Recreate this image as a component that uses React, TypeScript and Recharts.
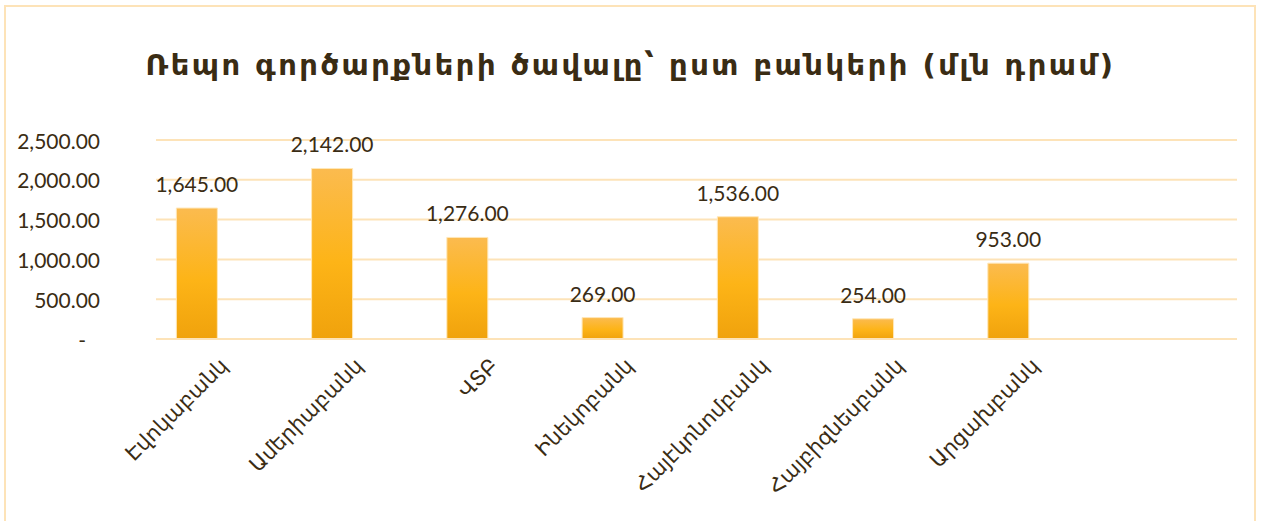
import React from 'react';
import { BarChart, Bar, XAxis, YAxis, CartesianGrid, LabelList } from 'recharts';

const banks = ['Էվոկաբանկ', 'Ամերիաբանկ', 'ՎՏԲ', 'Ինեկոբանկ', 'Հայէկոնոմբանկ', 'Հայբիզնեսբանկ', 'Արցախբանկ'];
const volumes = [1645, 2142, 1276, 269, 1536, 254, 953];
const yTicks = [0, 500, 1000, 1500, 2000, 2500];

const data = banks.map((name, i) => ({ idx: i, name, value: volumes[i] }));

const TEXT = '#3a2c14';
const GRID = '#fde3b8';

const fmt = (v: number) =>
  v.toLocaleString('en-US', { minimumFractionDigits: 2, maximumFractionDigits: 2 });

function YTick(props: any) {
  const { x, y, payload } = props;
  if (payload.value === 0) {
    return (
      <text x={x - 14} y={y} textAnchor="end" dominantBaseline="central" fill={TEXT} fontSize={21} fontFamily="Lato">
        -
      </text>
    );
  }
  return (
    <text x={x} y={y} textAnchor="end" dominantBaseline="central" fill={TEXT} fontSize={21} fontFamily="Lato">
      {fmt(payload.value)}
    </text>
  );
}

function XTick(props: any) {
  const { x, payload } = props;
  const label = banks[payload.value] ?? '';
  const ax = x + 32;
  const ay = 367;
  return (
    <text
      x={ax}
      y={ay}
      textAnchor="end"
      transform={`rotate(-45 ${ax} ${ay})`}
      fill={TEXT}
      fontSize={21}
      fontFamily="'DejaVu Sans'"
    >
      {label}
    </text>
  );
}

export default function App() {
  return (
    <div style={{ position: 'absolute', left: 0, top: 0, width: 1261, height: 521, background: '#fff', overflow: 'hidden' }}>
      <div
        style={{
          position: 'absolute',
          left: 4,
          top: 5,
          width: 1252,
          height: 530,
          border: `2px solid ${GRID}`,
          boxSizing: 'border-box',
        }}
      />
      <div
        style={{
          position: 'absolute',
          left: 0,
          top: 48,
          width: 1261,
          textAlign: 'center',
          fontFamily: "'DejaVu Sans'",
          fontWeight: 'bold',
          fontSize: 29,
          letterSpacing: 2.5,
          color: TEXT,
        }}
      >
        Ռեպո գործարքների ծավալը՝ ըստ բանկերի (մլն դրամ)
      </div>
      <div style={{ position: 'absolute', left: 0, top: 0 }}>
        <BarChart
          width={1261}
          height={521}
          data={data}
          margin={{ top: 140, right: 24, bottom: 152, left: 0 }}
        >
          <defs>
            <linearGradient id="barFill" x1="0" y1="0" x2="0" y2="1">
              <stop offset="0%" stopColor="#fbbb4f" />
              <stop offset="55%" stopColor="#fdb417" />
              <stop offset="100%" stopColor="#f0a20c" />
            </linearGradient>
          </defs>
          <CartesianGrid horizontal vertical={false} stroke={GRID} strokeWidth={2} />
          <XAxis
            type="number"
            dataKey="idx"
            domain={[-0.303, 7.69]}
            ticks={[0, 1, 2, 3, 4, 5, 6]}
            allowDataOverflow
            axisLine={{ stroke: GRID, strokeWidth: 2 }}
            tickLine={false}
            tick={<XTick />}
            interval={0}
            height={30}
          />
          <YAxis
            domain={[0, 2500]}
            ticks={yTicks}
            width={156}
            axisLine={false}
            tickLine={false}
            tickSize={0}
            tickMargin={56}
            tick={<YTick />}
          />
          <Bar dataKey="value" barSize={41} fill="url(#barFill)" stroke="#ffe7b8" strokeWidth={1} isAnimationActive={false}>
            <LabelList
              dataKey="value"
              position="top"
              offset={16}
              formatter={(v: any) => fmt(Number(v))}
              fill={TEXT}
              fontSize={21}
              fontFamily="Lato"
            />
          </Bar>
        </BarChart>
      </div>
    </div>
  );
}
